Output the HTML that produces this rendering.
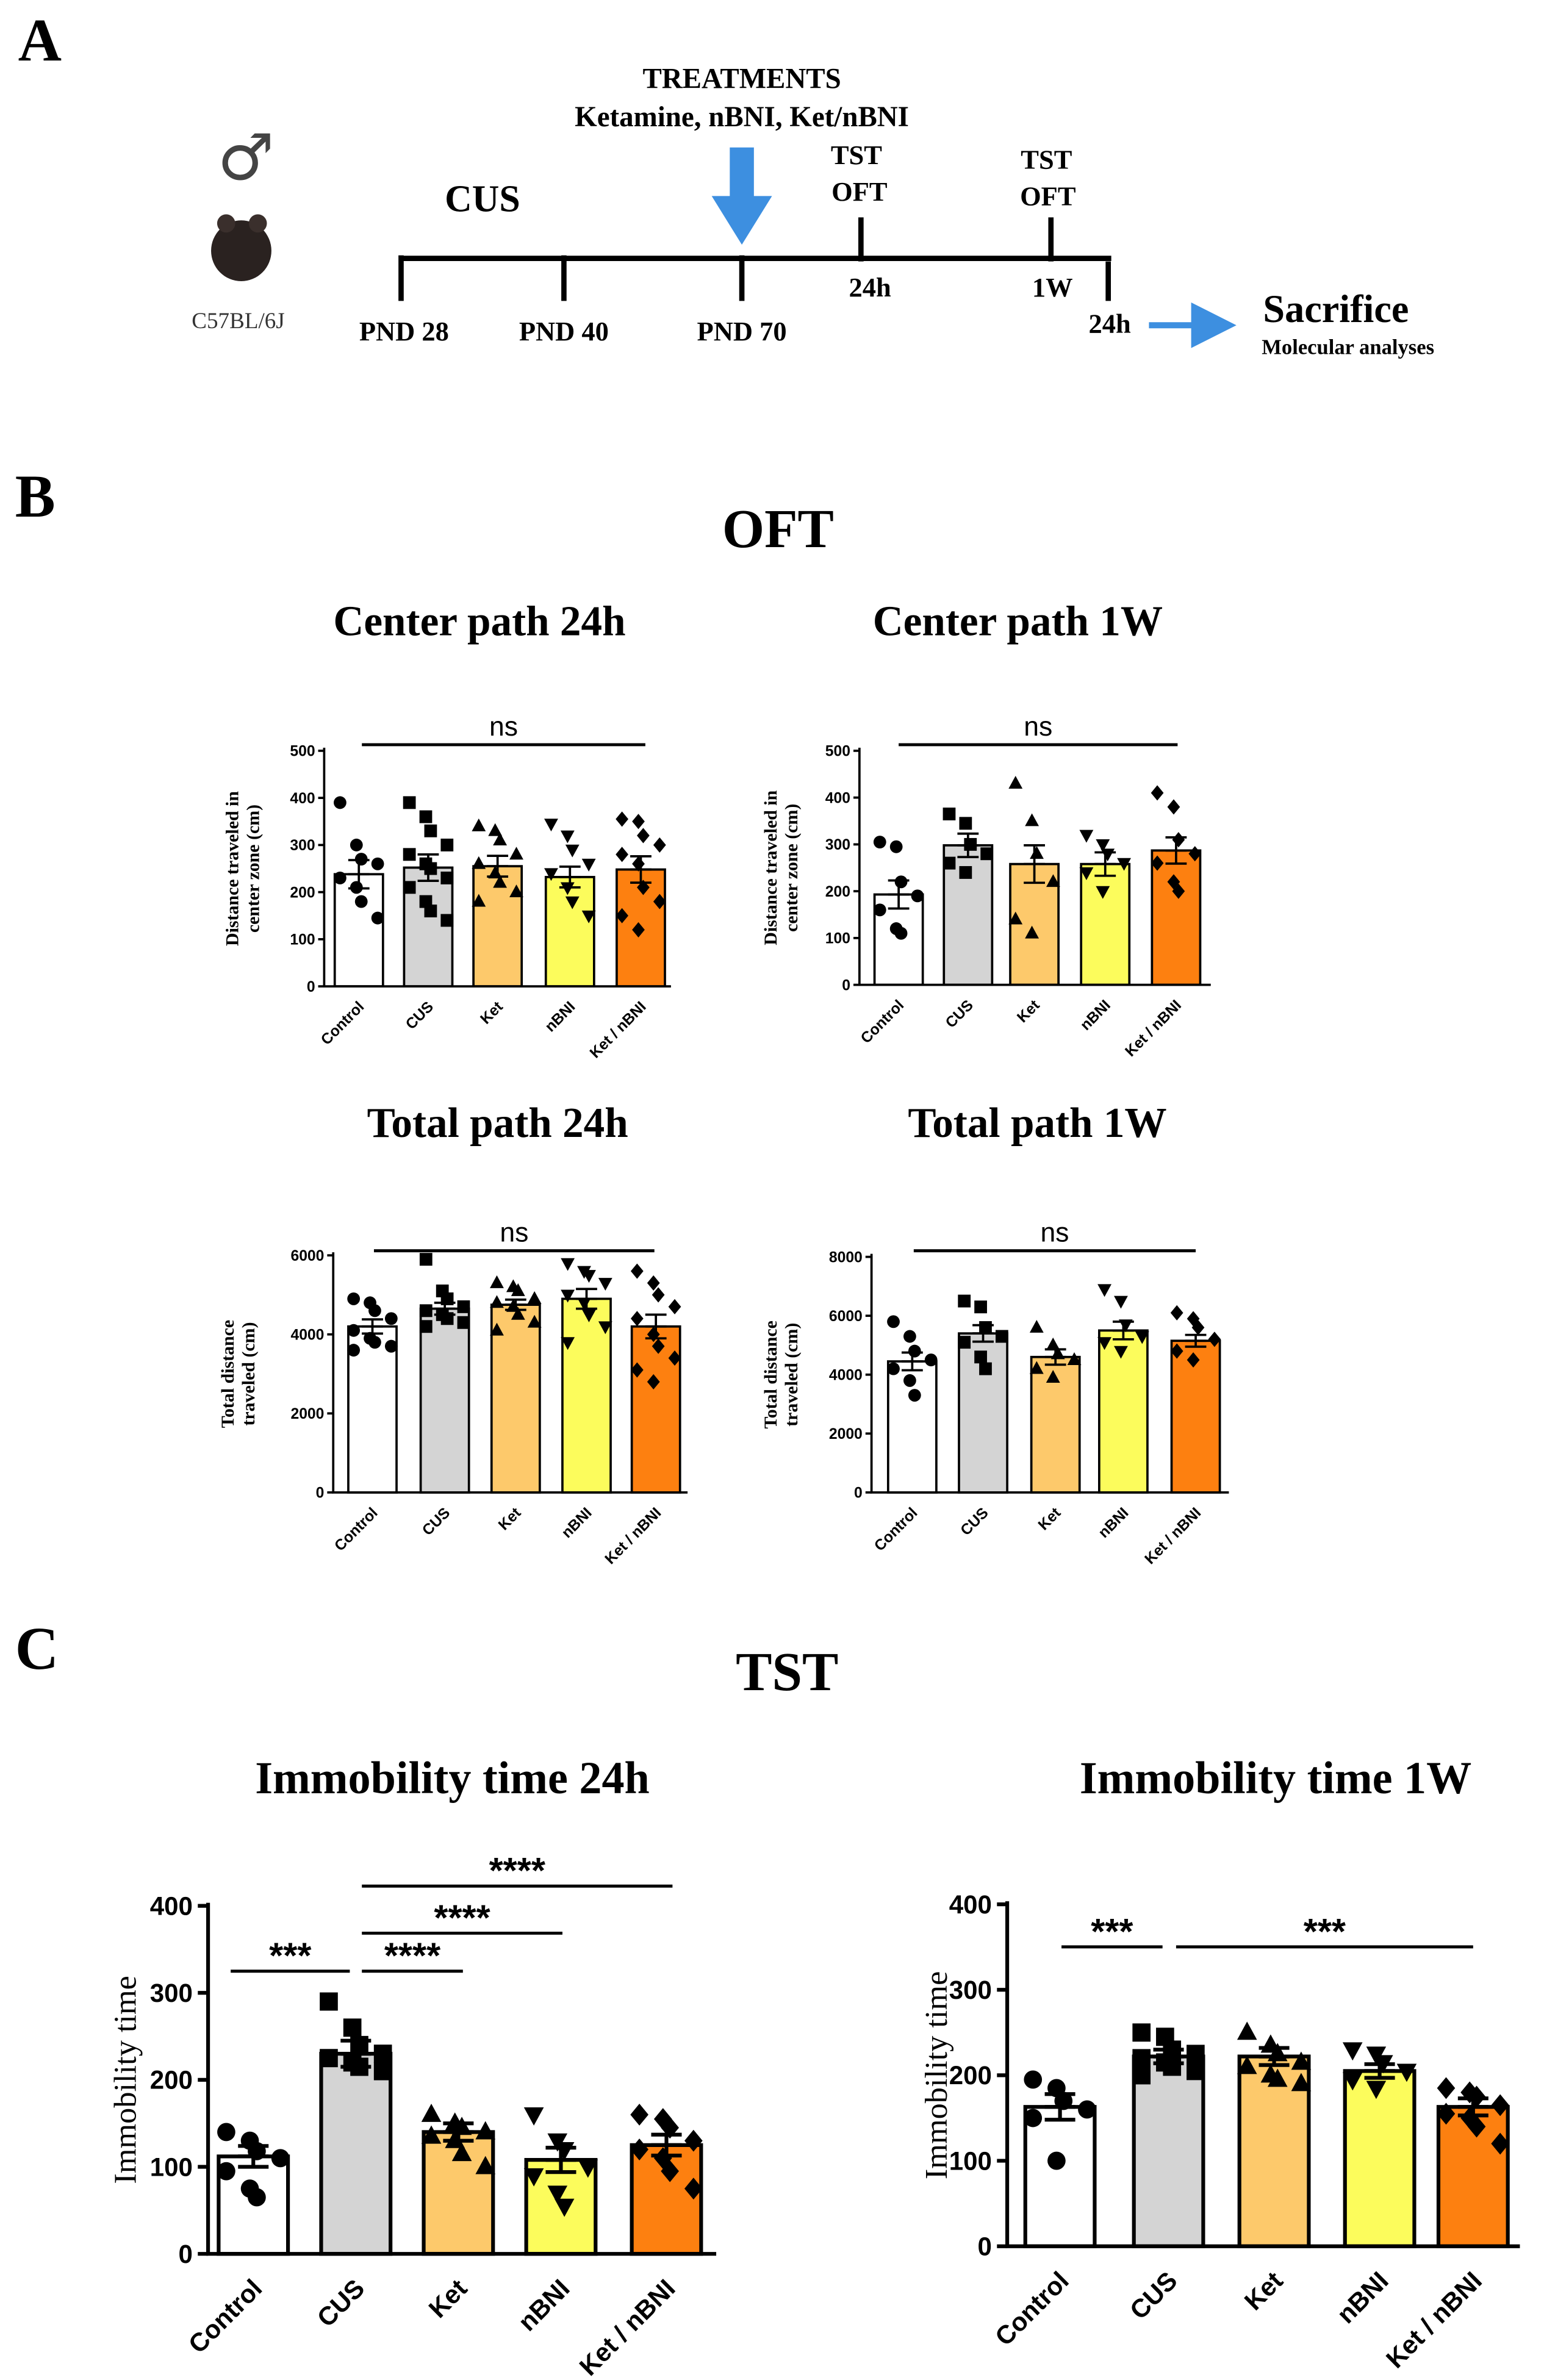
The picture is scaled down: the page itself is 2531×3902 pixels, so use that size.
<!DOCTYPE html>
<html><head><meta charset="utf-8"><style>
html,body{margin:0;padding:0;background:#fff}
svg{display:block}
.serif{font-family:"Liberation Serif",serif;font-weight:bold}
.sans{font-family:"Liberation Sans",sans-serif;font-weight:bold}
</style></head><body>
<svg id="fig" width="2531" height="3902" viewBox="0 0 1024 1566" preserveAspectRatio="none" xmlns="http://www.w3.org/2000/svg">
<g>
<text class="serif" x="12" y="40" font-size="40">A</text>
<text class="serif" x="492" y="58" font-size="19" text-anchor="middle">TREATMENTS</text>
<text class="serif" x="492" y="83" font-size="19" text-anchor="middle">Ketamine, nBNI, Ket/nBNI</text>
<text x="163" y="118" font-size="42" text-anchor="middle" font-family="DejaVu Sans,sans-serif" fill="#444">♂</text>
<ellipse cx="160" cy="165" rx="20" ry="20" fill="#2a2220"/>
<ellipse cx="150" cy="147" rx="6" ry="6" fill="#3a2f2c"/>
<ellipse cx="171" cy="147" rx="6" ry="6" fill="#3a2f2c"/>
<text class="serif" x="158" y="216" font-size="15" text-anchor="middle" fill="#333" style="font-weight:normal">C57BL/6J</text>
<text class="serif" x="320" y="139" font-size="25" text-anchor="middle">CUS</text>
<g stroke="#000" stroke-width="3.5" fill="none">
<line x1="265" y1="170" x2="737" y2="170"/>
<line x1="266" y1="168" x2="266" y2="198"/><line x1="374" y1="168" x2="374" y2="198"/><line x1="492" y1="168" x2="492" y2="198"/>
<line x1="735" y1="172" x2="735" y2="198"/><line x1="571" y1="172" x2="571" y2="143"/><line x1="697" y1="172" x2="697" y2="143"/>
</g>
<path d="M484 97h16v32h12l-20 32l-20-32h12z" fill="#3d8fe0"/>
<path d="M762 212h28v-13l30 15l-30 15v-13h-28z" fill="#3d8fe0"/>
<g class="serif" font-size="18" text-anchor="middle">
<text x="268" y="224">PND 28</text>
<text x="374" y="224">PND 40</text>
<text x="492" y="224">PND 70</text>
<text x="568" y="108">TST</text>
<text x="570" y="132">OFT</text>
<text x="577" y="195">24h</text>
<text x="694" y="111">TST</text>
<text x="695" y="135">OFT</text>
<text x="698" y="195">1W</text>
<text x="736" y="219">24h</text>
</g>
<text class="serif" x="886" y="212" font-size="26" text-anchor="middle">Sacrifice</text>
<text class="serif" x="894" y="233" font-size="14" text-anchor="middle">Molecular analyses</text>
</g>
<text class="serif" x="10" y="340" font-size="40">B</text>
<text class="serif" x="516" y="360" font-size="36" text-anchor="middle">OFT</text>
<text class="serif" x="10" y="1098" font-size="40">C</text>
<text class="serif" x="522" y="1112" font-size="36" text-anchor="middle">TST</text>
<g id="charts"></g>
</svg>
<script>
const categories = ["Control","CUS","Ket","nBNI","Ket / nBNI"];
const colors = ["#ffffff","#d4d4d4","#fdc96b","#fcfc5c","#fd8010"];
const shapes = ["circle","square","up","down","diamond"];

const c1Means=[238,252,255,232,248], c1Sem=[30,28,22,22,28];
const c1Points=[[390,300,270,260,230,210,180,145],[390,360,330,300,280,260,250,230,210,180,160,140],[340,330,310,280,260,240,220,200,180],[345,320,290,260,240,210,180,150],[355,350,320,300,280,260,210,180,150,120]];
const c1Ticks=[0,100,200,300,400,500];
const c2Means=[193,298,258,258,287], c2Sem=[30,25,40,25,28];
const c2Points=[[305,295,220,190,160,120,110],[365,345,300,280,260,240],[430,350,280,220,140,110],[320,300,280,260,240,200],[410,380,310,280,260,220,200]];
const c2Ticks=[0,100,200,300,400,500];
const c3Means=[4200,4650,4750,4900,4200], c3Sem=[180,150,130,250,300];
const c3Points=[[4900,4800,4600,4400,4100,3900,3800,3700,3600],[5900,5100,4900,4700,4600,4500,4400,4300,4200],[5300,5200,5100,4900,4800,4700,4500,4300,4100],[5800,5600,5500,5300,5000,4800,4500,4200,3800],[5600,5300,5000,4700,4400,4000,3700,3400,3100,2800]];
const c3Ticks=[0,2000,4000,6000];
const c4Means=[4450,5400,4600,5500,5150], c4Sem=[300,280,260,300,200];
const c4Points=[[5800,5300,4800,4500,4200,3800,3300],[6500,6300,5600,5300,5100,4600,4200],[5600,5000,4700,4500,4200,3900],[6900,6500,5700,5300,5100,4800],[6100,5900,5600,5200,4800,4500]];
const c4Ticks=[0,2000,4000,6000,8000];
const c5Means=[112,230,140,108,125], c5Sem=[12,15,10,14,12];
const c5Points=[[140,130,118,110,95,75,65],[290,260,240,230,225,220,215,210],[160,150,145,140,135,130,115,100],[160,130,120,100,90,70,55],[160,155,145,130,120,110,95,75]];
const c5Ticks=[0,100,200,300,400];
const c6Means=[163,222,222,205,163], c6Sem=[15,8,10,8,10];
const c6Points=[[195,185,170,160,150,100],[250,245,230,225,220,215,210,205,200],[250,235,225,215,210,200,195,190],[230,225,215,205,195,185],[185,180,175,165,155,150,140,120]];
const c6Ticks=[0,100,200,300,400];

const layouts=[
 {id:"center-24h",title:"Center path 24h",tx:318,ty:418,ts:28,ax:215,ax2:445,y0:649,y1:494,max:500,bx:[238,284,330,378,425],bw:32,ms:4.2,fs:10,ylab:["Distance traveled in","center zone (cm)"],ylx:158,lfs:12,means:c1Means,sem:c1Sem,pts:c1Points,ticks:c1Ticks,sig:[[240,428,490,"ns"]],sigfs:18},
 {id:"center-1w",title:"Center path 1W",tx:675,ty:418,ts:28,ax:570,ax2:803,y0:648,y1:494,max:500,bx:[596,642,686,733,780],bw:32,ms:4.2,fs:10,ylab:["Distance traveled in","center zone (cm)"],ylx:515,lfs:12,means:c2Means,sem:c2Sem,pts:c2Points,ticks:c2Ticks,sig:[[596,781,490,"ns"]],sigfs:18},
 {id:"total-24h",title:"Total path 24h",tx:330,ty:748,ts:28,ax:221,ax2:456,y0:982,y1:826,max:6000,bx:[247,295,342,389,435],bw:32,ms:4.2,fs:10,ylab:["Total distance","traveled (cm)"],ylx:155,lfs:12,means:c3Means,sem:c3Sem,pts:c3Points,ticks:c3Ticks,sig:[[248,434,823,"ns"]],sigfs:18},
 {id:"total-1w",title:"Total path 1W",tx:688,ty:748,ts:28,ax:578,ax2:815,y0:982,y1:827,max:8000,bx:[605,652,700,745,793],bw:32,ms:4.2,fs:10,ylab:["Total distance","traveled (cm)"],ylx:515,lfs:12,means:c4Means,sem:c4Sem,pts:c4Points,ticks:c4Ticks,sig:[[606,793,823,"ns"]],sigfs:18},
 {id:"immobility-24h",title:"Immobility time 24h",tx:300,ty:1180,ts:30,ax:138,ax2:475,y0:1483,y1:1254,max:400,bx:[168,236,304,372,442],bw:46,ms:6,fs:17,ylab:["Immobility time"],ylx:90,lfs:21,means:c5Means,sem:c5Sem,pts:c5Points,ticks:c5Ticks,sig:[[153,232,1297,"***"],[240,307,1297,"****"],[240,373,1272,"****"],[240,446,1241,"****"]],sigfs:24},
 {id:"immobility-1w",title:"Immobility time 1W",tx:846,ty:1180,ts:30,ax:668,ax2:1008,y0:1478,y1:1253,max:400,bx:[703,775,845,915,977],bw:46,ms:6,fs:17,ylab:["Immobility time"],ylx:628,lfs:21,means:c6Means,sem:c6Sem,pts:c6Points,ticks:c6Ticks,sig:[[704,771,1281,"***"],[780,977,1281,"***"]],sigfs:24}
];
const NS="http://www.w3.org/2000/svg";
const root=document.getElementById("charts");
function mk(tag,attrs,parent){const e=document.createElementNS(NS,tag);for(const k in attrs)e.setAttribute(k,attrs[k]);(parent||root).appendChild(e);return e;}
function marker(g,shape,x,y,s){
 let e;
 if(shape==="circle")e=mk("circle",{cx:x,cy:y,r:s},g);
 else if(shape==="square")e=mk("rect",{x:x-s,y:y-s,width:2*s,height:2*s},g);
 else if(shape==="up")e=mk("path",{d:`M${x} ${y-s*1.2}L${x+s*1.1} ${y+s*0.8}L${x-s*1.1} ${y+s*0.8}Z`},g);
 else if(shape==="down")e=mk("path",{d:`M${x} ${y+s*1.2}L${x+s*1.1} ${y-s*0.8}L${x-s*1.1} ${y-s*0.8}Z`},g);
 else e=mk("path",{d:`M${x} ${y-s*1.2}L${x+s} ${y}L${x} ${y+s*1.2}L${x-s} ${y}Z`},g);
 e.setAttribute("fill","#000");
 
 
}
layouts.forEach(L=>{
 const g=mk("g",{});
 
 
 const yS=v=>L.y0-(v/L.max)*(L.y0-L.y1);
 const t=mk("text",{x:L.tx,y:L.ty,"font-size":L.ts,"text-anchor":"middle",class:"serif"},g);t.textContent=L.title;
 
 
 const lw=L.fs>12?2.5:1.5;
 L.means.forEach((m,i)=>{
  const r=mk("rect",{x:L.bx[i]-L.bw/2,y:yS(m),width:L.bw,height:L.y0-yS(m),fill:colors[i],stroke:"#000","stroke-width":lw},g);
  
  
  const eb=mk("path",{d:`M${L.bx[i]} ${yS(m-L.sem[i])}V${yS(m+L.sem[i])}M${L.bx[i]-L.bw*0.22} ${yS(m+L.sem[i])}h${L.bw*0.44}M${L.bx[i]-L.bw*0.22} ${yS(m)}h${L.bw*0.44}M${L.bx[i]-L.bw*0.22} ${yS(m-L.sem[i])}h${L.bw*0.44}`,stroke:"#000","stroke-width":lw,fill:"none"},g);
  
  
  L.pts[i].forEach((v,j)=>{
   const off=((j%4)-1.5)*(L.bw*0.22)+((j%2)?L.bw*0.06:-L.bw*0.06);
   marker(g,shapes[i],L.bx[i]+off,yS(v),L.ms);
  });
  const lx=L.bx[i]+L.fs*0.4, ly=L.y0+L.fs*1.4;
  const tl=mk("text",{x:lx,y:ly,"font-size":L.fs,"text-anchor":"end",class:"sans",transform:`rotate(-45 ${lx} ${ly})`},g);tl.textContent=categories[i];
  
  
 });
 const ax=mk("path",{d:`M${L.ax} ${L.y1-2}V${L.y0}H${L.ax2}`,stroke:"#000","stroke-width":lw,fill:"none"},g);
 
 
 L.ticks.forEach(v=>{
  mk("line",{x1:L.ax-L.fs*0.4,x2:L.ax,y1:yS(v),y2:yS(v),stroke:"#000","stroke-width":lw},g);
  const tt=mk("text",{x:L.ax-L.fs*0.6,y:yS(v)+L.fs*0.35,"font-size":L.fs,"text-anchor":"end",class:"sans"},g);tt.textContent=v;
  
  
 });
 const yc=(L.y0+L.y1)/2;
 L.ylab.forEach((s,k)=>{
  const x=L.ylx+k*L.lfs*1.15;
  const yt=mk("text",{x:x,y:yc,"font-size":L.lfs,"text-anchor":"middle",class:"serif",transform:`rotate(-90 ${x} ${yc})`},g);
  if(L.lfs>15)yt.setAttribute("style","font-weight:normal");
  yt.textContent=s;
  
  
 });
 L.sig.forEach(s=>{
  mk("line",{x1:s[0],x2:s[1],y1:s[2],y2:s[2],stroke:"#000","stroke-width":2},g);
  const st=mk("text",{x:(s[0]+s[1])/2,y:s[3]==="ns"?s[2]-6:s[2]-2,"font-size":L.sigfs,"text-anchor":"middle",class:"sans",style:"font-weight:"+(s[3]==="ns"?"normal":"bold")},g);
  st.textContent=s[3];
  
  
 });
});
</script>
</body></html>
